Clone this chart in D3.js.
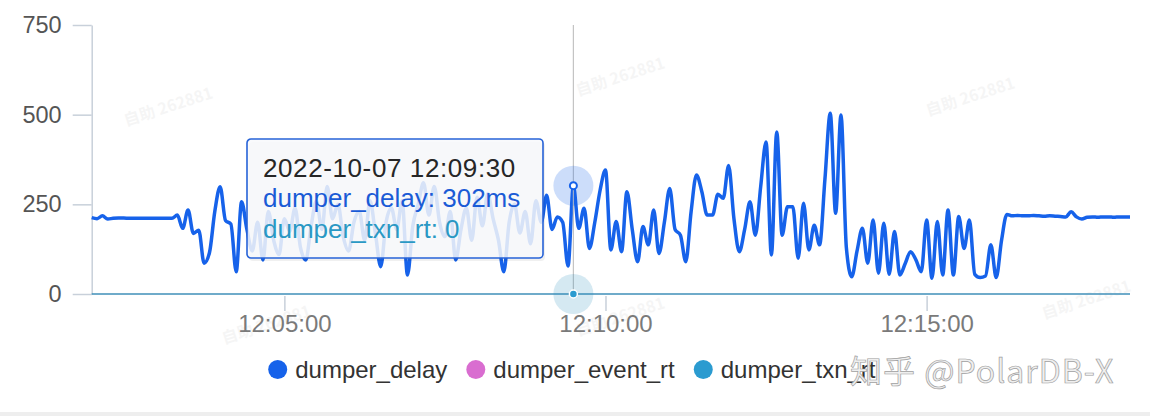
<!DOCTYPE html>
<html>
<head>
<meta charset="utf-8">
<script src="https://cdn.jsdelivr.net/npm/d3@7/dist/d3.min.js"></script>
<style>
  body { margin: 0; background: #fff; }
  svg { display: block; font-family: "Liberation Sans", Arial, sans-serif; }
</style>
</head>
<body>
<script>

// series meta
var seriesNames = ["dumper_delay", "dumper_event_rt", "dumper_txn_rt"];
var seriesColors = ["#1662ea", "#d96dd0", "#2b9bd0"];

// samples every 5s from 12:02:00 to 12:18:10
var startTime = new Date(2022, 9, 7, 12, 2, 0);
var stepSeconds = 5;

var delayValues = [
  213, 210, 218, 209, 211, 212, 212, 211, 211, 211,
  211, 211, 211, 211, 211, 211, 220, 183, 234, 169,
  178, 86, 115, 230, 299, 205, 195, 62, 257, 180,
  120, 200, 95, 230, 150, 110, 210, 175, 240, 130,
  95, 190, 260, 180, 300, 210, 250, 160, 120, 200,
  230, 150, 260, 170, 76, 200, 240, 180, 260, 53,
  190, 250, 310, 220, 300, 200, 160, 230, 95, 180,
  240, 150, 270, 190, 280, 210, 150, 62, 200, 250,
  170, 230, 140, 260, 200, 275, 180, 215, 200, 78,
  302, 183, 239, 127, 200, 290, 346, 123, 202, 118,
  285, 180, 90, 188, 137, 234, 113, 200, 294, 180,
  164, 90, 230, 332, 285, 220, 220, 278, 267, 358,
  210, 118, 180, 257, 164, 300, 424, 109, 452, 164,
  243, 243, 100, 253, 123, 192, 137, 320, 504, 225,
  499, 130, 48, 120, 183, 86, 206, 58, 197, 55,
  174, 53, 85, 118, 95, 62, 206, 44, 202, 53,
  234, 53, 216, 127, 206, 55, 46, 50, 137, 46,
  150, 222, 218, 219, 218, 218, 219, 218, 217, 218,
  217, 216, 215, 229, 215, 209, 214, 215, 214, 215,
  215, 214, 215, 215, 215
];
// event_rt has no points in this window, txn_rt stays at 0
var eventRtValues = [];
var txnRtValues = delayValues.map(function(){ return 0; });

var yTicks = [0, 250, 500, 750];
var xTicks = [new Date(2022, 9, 7, 12, 5, 0), new Date(2022, 9, 7, 12, 10, 0), new Date(2022, 9, 7, 12, 15, 0)];

var hoverIndex = 90;

var timeAt = function(i){
  return new Date(startTime.getTime() + i * stepSeconds * 1000);
};

var W = 1150, H = 416;
var svg = d3.select("body").append("svg")
  .attr("width", W)
  .attr("height", H);

var x = d3.scaleTime()
  .domain([timeAt(0), timeAt(delayValues.length - 1)])
  .range([91.7, 1130]);
var y = d3.scaleLinear().domain([0, 750]).range([294, 25]);

// faint watermarks
var marks = [[170, 112], [622, 82], [972, 102], [268, 330], [622, 322], [1088, 305]];
svg.append("g").selectAll("text").data(marks).enter().append("text")
  .attr("transform", function(d){ return "translate(" + d[0] + "," + d[1] + ") rotate(-18)"; })
  .attr("text-anchor", "middle")
  .style("font-family", "'Noto Sans CJK SC', sans-serif")
  .style("font-size", "16px")
  .style("font-weight", "bold")
  .attr("fill", "#000")
  .attr("opacity", 0.035)
  .text("自助 262881");

// y axis
var yAxis = svg.append("g")
  .attr("transform", "translate(91.7,0)")
  .call(d3.axisLeft(y).tickValues(yTicks).tickSize(19).tickSizeOuter(0).tickPadding(11));
yAxis.select(".domain").attr("stroke", "#c8d0da").attr("stroke-width", 1.5);
yAxis.selectAll(".tick line").attr("stroke", "#c8d0da").attr("stroke-width", 1.5);
yAxis.selectAll("text")
  .style("font-family", "'Liberation Sans', Arial, sans-serif")
  .style("font-size", "23.5px")
  .attr("fill", "#555");

// x axis
var xAxis = svg.append("g")
  .attr("transform", "translate(0,296)")
  .call(d3.axisBottom(x).tickValues(xTicks).tickFormat(d3.timeFormat("%H:%M:%S")).tickSize(15).tickPadding(4));
xAxis.select(".domain").remove();
xAxis.selectAll(".tick line").attr("stroke", "#c8d0da").attr("stroke-width", 1.5);
xAxis.selectAll("text")
  .style("font-family", "'Liberation Sans', Arial, sans-serif")
  .style("font-size", "24px")
  .attr("fill", "#7a7a7a");

// lines
var line = d3.line()
  .x(function(d, i){ return x(timeAt(i)); })
  .y(function(d){ return y(d); })
  .curve(d3.curveMonotoneX);

svg.append("path")
  .datum(txnRtValues)
  .attr("fill", "none")
  .attr("stroke", "#3f8fb8")
  .attr("stroke-width", 1.5)
  .attr("d", line);

svg.append("path")
  .datum(eventRtValues)
  .attr("fill", "none")
  .attr("stroke", seriesColors[1])
  .attr("stroke-width", 3.5)
  .attr("d", line);

svg.append("path")
  .datum(delayValues)
  .attr("fill", "none")
  .attr("stroke", seriesColors[0])
  .attr("stroke-width", 3.5)
  .attr("stroke-linejoin", "round")
  .attr("d", line);

// hover crosshair + markers
var hx = x(timeAt(hoverIndex));
svg.append("line")
  .attr("x1", hx).attr("x2", hx)
  .attr("y1", 25).attr("y2", 294)
  .attr("stroke", "#c4c4c4")
  .attr("stroke-width", 1.2);

svg.append("circle").attr("cx", hx).attr("cy", y(delayValues[hoverIndex])).attr("r", 20)
  .attr("fill", "#1662ea").attr("opacity", 0.22);
svg.append("circle").attr("cx", hx).attr("cy", y(delayValues[hoverIndex])).attr("r", 3.5)
  .attr("fill", "#fff").attr("stroke", seriesColors[0]).attr("stroke-width", 2);

svg.append("circle").attr("cx", hx).attr("cy", y(txnRtValues[hoverIndex])).attr("r", 20)
  .attr("fill", "#2b8fc0").attr("opacity", 0.2);
svg.append("circle").attr("cx", hx).attr("cy", y(txnRtValues[hoverIndex])).attr("r", 4)
  .attr("fill", seriesColors[2]).attr("stroke", "#fff").attr("stroke-width", 1.5);

// tooltip
var tip = svg.append("g").attr("transform", "translate(247,139)");
tip.append("rect")
  .attr("x", 2).attr("y", 3)
  .attr("width", 296).attr("height", 119)
  .attr("rx", 4)
  .attr("fill", "#000").attr("opacity", 0.06);
tip.append("rect")
  .attr("width", 296).attr("height", 119)
  .attr("rx", 4)
  .attr("fill", "rgba(248,249,252,0.85)")
  .attr("stroke", "#2763d8")
  .attr("stroke-width", 1.6);

var tipLines = [
  [d3.timeFormat("%Y-%m-%d %H:%M:%S")(timeAt(hoverIndex)), "#262626", 0.6],
  [seriesNames[0] + ": " + delayValues[hoverIndex] + "ms", "#1a5bd6", 0],
  [seriesNames[2] + ": " + txnRtValues[hoverIndex], "#2a98c4", 0]
];
tip.selectAll("text").data(tipLines).enter().append("text")
  .attr("x", 16)
  .attr("y", function(d, i){ return 38 + i * 30.3; })
  .style("font-family", "'Liberation Sans', Arial, sans-serif")
  .style("font-size", "26px")
  .style("letter-spacing", function(d){ return d[2] + "px"; })
  .attr("fill", function(d){ return d[1]; })
  .text(function(d){ return d[0]; });

// legend
var legend = svg.append("g").attr("transform", "translate(0,369.5)");
var lx = 277.7;
seriesNames.forEach(function(name, i){
  legend.append("circle").attr("cx", lx).attr("cy", 0).attr("r", 9.5).attr("fill", seriesColors[i]);
  var t = legend.append("text")
    .attr("x", lx + 17.5)
    .attr("y", 8)
    .style("font-family", "'Liberation Sans', Arial, sans-serif")
    .style("font-size", "24px")
    .attr("fill", "#333")
    .text(name);
  lx = lx + 17.5 + t.node().getComputedTextLength() + 28.5;
});

// site watermark
svg.append("text")
  .attr("x", 850).attr("y", 383)
  .style("font-family", "'Noto Sans CJK SC', sans-serif")
  .style("font-size", "32px")
  .style("letter-spacing", "1px")
  .attr("fill", "#efefef")
  .attr("stroke", "#a0a0a0")
  .attr("stroke-width", 0.7)
  .text("知乎 @PolarDB-X");

// bottom strip
svg.append("rect").attr("x", 0).attr("y", 412).attr("width", W).attr("height", 4).attr("fill", "#eeeeee");

</script>
</body>
</html>
